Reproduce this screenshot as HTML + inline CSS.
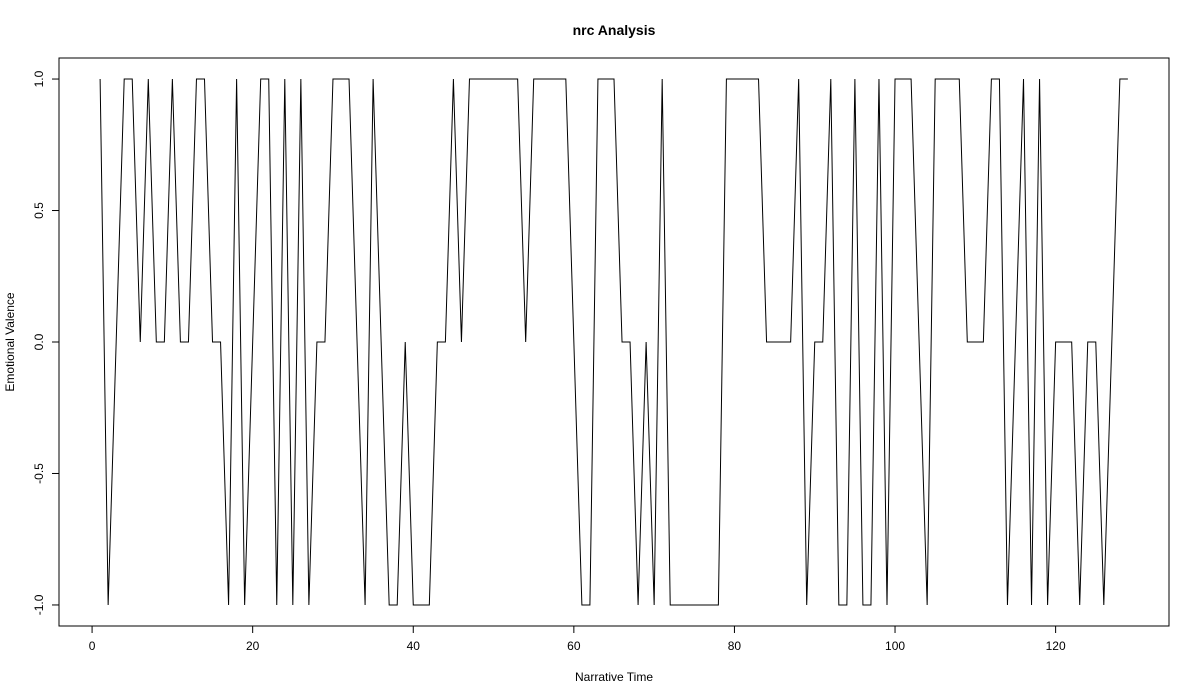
<!DOCTYPE html>
<html><head><meta charset="utf-8"><style>
body{margin:0;background:#fff}
svg{display:block;font-family:"Liberation Sans",sans-serif}
</style></head><body>
<svg id="chart" width="1200" height="700" viewBox="0 0 1200 700">
<text x="614" y="35" text-anchor="middle" font-size="14" font-weight="bold">nrc Analysis</text>
<rect x="59" y="58" width="1110" height="568" fill="none" stroke="#000" stroke-width="1"/>
<g id="xaxis"></g>
<g id="yaxis"></g>
<text x="614" y="681" text-anchor="middle" font-size="12">Narrative Time</text>
<text transform="translate(14,342) rotate(-90)" text-anchor="middle" font-size="12">Emotional Valence</text>
<path id="line" fill="none" stroke="#000" stroke-width="1"/>
</svg>
<script>
const values = [1,-1,0,1,1,0,1,0,0,1,0,0,1,1,0,0,-1,1,-1,0,1,1,-1,1,-1,1,-1,0,0,1,1,1,0,-1,1,0,-1,-1,0,-1,-1,-1,0,0,1,0,1,1,1,1,1,1,1,0,1,1,1,1,1,0,-1,-1,1,1,1,0,0,-1,0,-1,1,-1,-1,-1,-1,-1,-1,-1,1,1,1,1,1,0,0,0,0,1,-1,0,0,1,-1,-1,1,-1,-1,1,-1,1,1,1,0,-1,1,1,1,1,0,0,0,1,1,-1,0,1,-1,1,-1,0,0,0,-1,0,0,-1,0,1,1];
const xTicks = [0,20,40,60,80,100,120];
const yTicks = [-1.0,-0.5,0.0,0.5,1.0];
const yTickLabels = ["-1.0","-0.5","0.0","0.5","1.0"];
const NS="http://www.w3.org/2000/svg";
const L=59,R=1169,T=58,B=626;
const n=values.length;
const xmin=1-(n-1)*0.04, xmax=n+(n-1)*0.04;
let ymin=Math.min(...values), ymax=Math.max(...values);
const yr=(ymax-ymin)||1; const y0=ymin-yr*0.04, y1=ymax+yr*0.04;
const sx=v=>L+(v-xmin)/(xmax-xmin)*(R-L);
const sy=v=>B-(v-y0)/(y1-y0)*(B-T);
let d="";
values.forEach((v,i)=>{d+=(i?"L":"M")+sx(i+1).toFixed(2)+","+sy(v).toFixed(2);});
document.getElementById("line").setAttribute("d",d);
const xa=document.getElementById("xaxis");
const axl=document.createElementNS(NS,"line");


axl.setAttribute("x1",sx(xTicks[0]));axl.setAttribute("x2",sx(xTicks[xTicks.length-1]));
axl.setAttribute("y1",B);axl.setAttribute("y2",B);axl.setAttribute("stroke","#000");xa.appendChild(axl);
xTicks.forEach(t=>{
 const ln=document.createElementNS(NS,"line");
 
 
 ln.setAttribute("x1",sx(t));ln.setAttribute("x2",sx(t));ln.setAttribute("y1",B);ln.setAttribute("y2",B+7);ln.setAttribute("stroke","#000");xa.appendChild(ln);
 const tx=document.createElementNS(NS,"text");
 
 
 tx.setAttribute("x",sx(t));tx.setAttribute("y",B+24);tx.setAttribute("text-anchor","middle");tx.setAttribute("font-size","12");tx.textContent=t;xa.appendChild(tx);
});
const ya=document.getElementById("yaxis");
const ayl=document.createElementNS(NS,"line");


ayl.setAttribute("x1",L);ayl.setAttribute("x2",L);ayl.setAttribute("y1",sy(yTicks[0]));ayl.setAttribute("y2",sy(yTicks[yTicks.length-1]));ayl.setAttribute("stroke","#000");ya.appendChild(ayl);
yTicks.forEach((t,i)=>{
 const ln=document.createElementNS(NS,"line");
 
 
 ln.setAttribute("x1",L-7);ln.setAttribute("x2",L);ln.setAttribute("y1",sy(t));ln.setAttribute("y2",sy(t));ln.setAttribute("stroke","#000");ya.appendChild(ln);
 const tx=document.createElementNS(NS,"text");
 
 
 tx.setAttribute("transform","translate("+(L-16)+","+sy(t)+") rotate(-90)");tx.setAttribute("text-anchor","middle");tx.setAttribute("font-size","12");tx.textContent=yTickLabels[i];ya.appendChild(tx);
});
</script>
</body></html>
